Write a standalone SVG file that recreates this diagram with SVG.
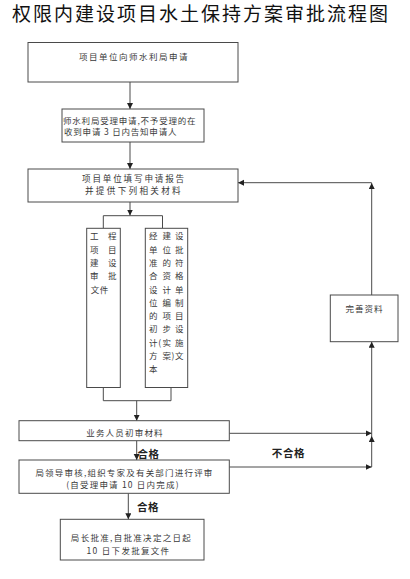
<svg xmlns="http://www.w3.org/2000/svg" width="410" height="579" viewBox="0 0 410 579">
<style>
.box{fill:#fff;stroke:#4a4a4a;stroke-width:1}
.t{font-family:"Noto Sans CJK SC","Liberation Sans",sans-serif;font-size:8.5px;fill:#3a3a3a}
.tm{text-anchor:middle}
.big{font-size:8.6px}
.lbl{font-family:"Noto Sans CJK SC","Liberation Sans",sans-serif;font-size:10.5px;fill:#222;font-weight:bold;text-anchor:middle}
.ln{fill:none;stroke:#4a4a4a;stroke-width:1}
.ar{marker-end:url(#ah)}
</style>
<defs>
<marker id="ah" markerUnits="userSpaceOnUse" markerWidth="8" markerHeight="8" refX="6" refY="3" orient="auto">
<path d="M0,0 L6,3 L0,6 Z" fill="#222"/>
</marker>
</defs>
<rect width="410" height="579" fill="#fff"/>
<text x="12" y="21" font-family="'Noto Sans CJK SC',sans-serif" font-size="19" letter-spacing="2" fill="#111">权限内建设项目水土保持方案审批流程图</text>

<g id="connectors">
<path class="ln ar" d="M130,82 V109"/>
<path class="ln ar" d="M130,142 V169"/>
<path class="ln ar" d="M130,202 V215.5"/>
<path class="ln" d="M103.3,228.3 V215.7 H162.5 V228.3"/>
<path class="ln" d="M103.3,387.5 V400.7 H171 V387.5"/>
<path class="ln ar" d="M136.7,400.7 V420.7"/>
<path class="ln ar" d="M136.7,440.7 V460"/>
<path class="ln ar" d="M128.3,493.3 V519.3"/>
<path class="ln ar" d="M229.3,433.3 H371.7"/>
<path class="ln ar" d="M229.3,467 H371.7"/>
<path class="ln ar" d="M371.7,467 V436"/>
<path class="ln ar" d="M371.7,436 V341.7"/>
<path class="ln ar" d="M371.7,295 V183"/>
<path class="ln ar" d="M371.7,182.7 H238"/>
</g>

<g id="n1">
<rect class="box" x="28" y="42.5" width="210" height="39.5"/>
<text class="t tm" x="134" y="60" letter-spacing="1.5">项目单位向师水利局申请</text>
</g>
<g id="n2">
<rect class="box" x="62" y="109" width="142" height="33"/>
<text class="t" x="63" y="123.5" letter-spacing="0.8">师水利局受理申请,不予受理的在</text>
<text class="t" x="64" y="135" letter-spacing="0.8">收到申请 3 日内告知申请人</text>
</g>
<g id="n3">
<rect class="box" x="28" y="169" width="210" height="33"/>
<text class="t big tm" x="134" y="181.8" letter-spacing="1.8">项目单位填写申请报告</text>
<text class="t big tm" x="134" y="194.4" letter-spacing="2.3">并提供下列相关材料</text>
</g>
<g id="n4">
<rect class="box" x="86.7" y="228.3" width="33.6" height="159.2"/>
<g class="t tm">
<text x="94.3" y="239.3">工</text><text x="112.3" y="239.3">程</text>
<text x="94.3" y="252.6">项</text><text x="112.3" y="252.6">目</text>
<text x="94.3" y="265.9">建</text><text x="112.3" y="265.9">设</text>
<text x="94.3" y="279.2">审</text><text x="112.3" y="279.2">批</text>
<text x="95" y="292.5">文</text><text x="104" y="292.5">件</text>
</g>
</g>
<g id="n5">
<rect class="box" x="145.3" y="228.3" width="42.4" height="159.2"/>
<g class="t tm">
<text x="153.3" y="239.3">经</text><text x="166.7" y="239.3">建</text><text x="179.3" y="239.3">设</text>
<text x="153.3" y="252.6">单</text><text x="166.7" y="252.6">位</text><text x="179.3" y="252.6">批</text>
<text x="153.3" y="265.9">准</text><text x="166.7" y="265.9">的</text><text x="179.3" y="265.9">符</text>
<text x="153.3" y="279.2">合</text><text x="166.7" y="279.2">资</text><text x="179.3" y="279.2">格</text>
<text x="153.3" y="292.5">设</text><text x="166.7" y="292.5">计</text><text x="179.3" y="292.5">单</text>
<text x="153.3" y="305.8">位</text><text x="166.7" y="305.8">编</text><text x="179.3" y="305.8">制</text>
<text x="153.3" y="319.1">的</text><text x="166.7" y="319.1">项</text><text x="179.3" y="319.1">目</text>
<text x="153.3" y="332.4">初</text><text x="166.7" y="332.4">步</text><text x="179.3" y="332.4">设</text>
<text x="153.3" y="345.7">计</text><text x="159.6" y="345.7">(</text><text x="166.7" y="345.7">实</text><text x="179.3" y="345.7">施</text>
<text x="153.3" y="359">方</text><text x="166.7" y="359">案</text><text x="173" y="359">)</text><text x="179.3" y="359">文</text>
<text x="153.3" y="372.3">本</text>
</g>
</g>
<g id="n6">
<rect class="box" x="19" y="420.7" width="210.3" height="20"/>
<text class="t tm" x="125" y="436.3" letter-spacing="1.2">业务人员初审材料</text>
</g>
<g id="n7">
<rect class="box" x="19" y="460" width="210.3" height="33.3"/>
<text class="t tm" x="124.5" y="475.8" letter-spacing="1.2">局领导审核,组织专家及有关部门进行评审</text>
<text class="t tm" x="123" y="488" letter-spacing="1.2">(自受理申请 10 日内完成)</text>
</g>
<g id="n8">
<rect class="box" x="60.3" y="519.3" width="143.7" height="40.7"/>
<text class="t tm" x="131.5" y="540.5" letter-spacing="1.3">局长批准,自批准决定之日起</text>
<text class="t tm" x="128.5" y="554" letter-spacing="1.3">10 日下发批复文件</text>
</g>
<g id="n9">
<rect class="box" x="330.3" y="295" width="67.7" height="46.7"/>
<text class="t tm" x="364.5" y="312.2" letter-spacing="1">完善资料</text>
</g>
<g id="labels">
<text class="lbl" x="148.5" y="457.8" letter-spacing="0.5">合格</text>
<text class="lbl" x="288.5" y="457.2" letter-spacing="0.7">不合格</text>
<text class="lbl" x="148" y="511.2" letter-spacing="0.5">合格</text>
</g>
</svg>
